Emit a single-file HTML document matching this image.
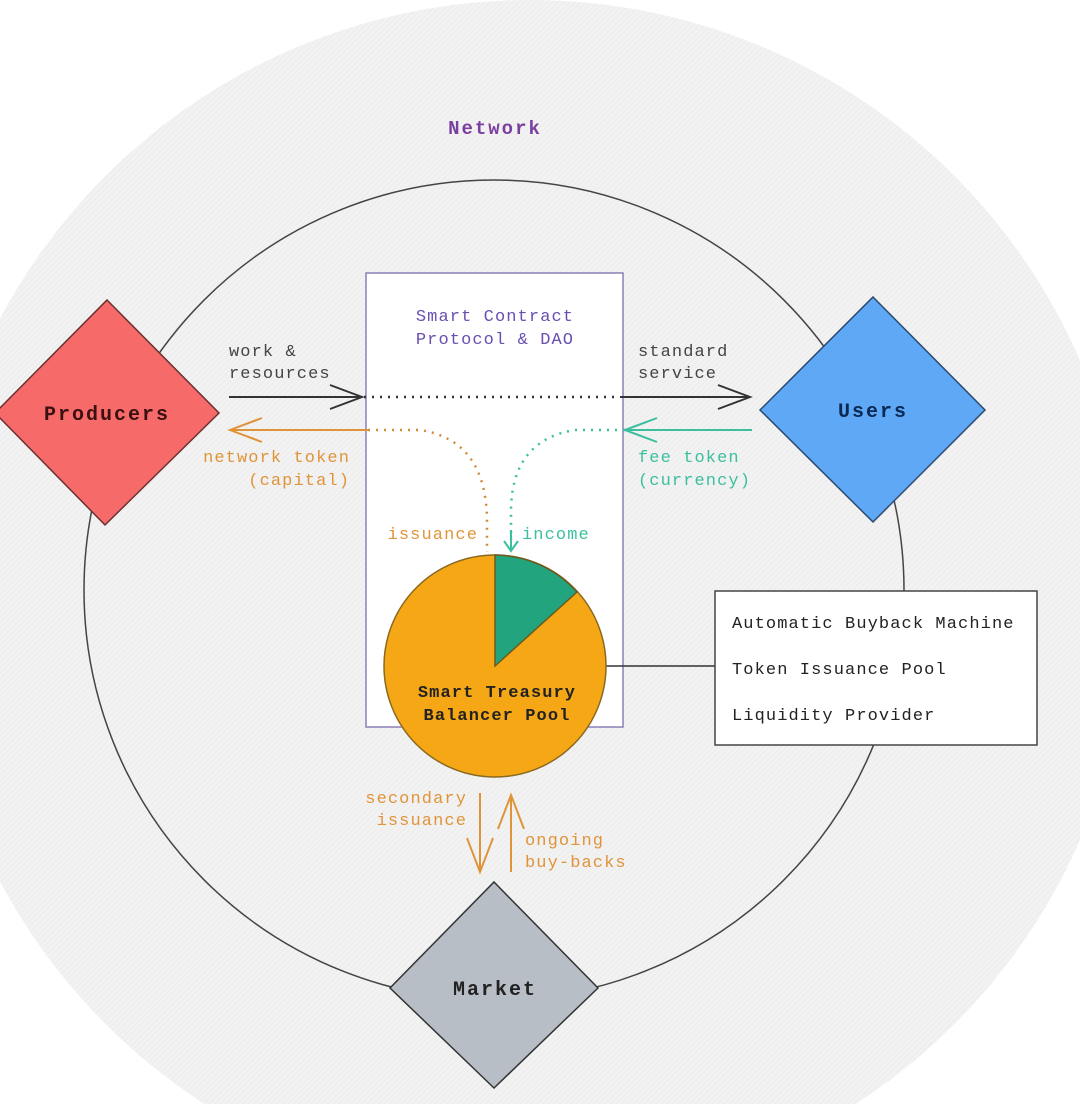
<!DOCTYPE html>
<html><head><meta charset="utf-8"><style>
html,body{margin:0;padding:0;background:#fff;width:1080px;height:1104px;overflow:hidden;}
svg{display:block;}
text{font-family:"Liberation Mono",monospace;}
.s{font-size:17px;letter-spacing:1.1px;}
.b{font-size:20px;letter-spacing:2px;font-weight:bold;}
</style></head><body>
<svg width="1080" height="1104" viewBox="0 0 1080 1104" xmlns="http://www.w3.org/2000/svg">
<defs>
<pattern id="h" width="4" height="4" patternUnits="userSpaceOnUse" patternTransform="rotate(45)">
<rect width="4" height="4" fill="#f2f2f2"/><line x1="0" y1="0" x2="0" y2="4" stroke="#e6e6e6" stroke-width="1"/>
</pattern>
</defs>
<rect width="1080" height="1104" fill="#fff"/>
<circle cx="530" cy="600" r="600" fill="url(#h)"/>
<text x="495" y="134" class="b" style="font-size:19px" fill="#7a3fa0" text-anchor="middle">Network</text>
<circle cx="494" cy="590" r="410" fill="none" stroke="#444" stroke-width="1.5"/>
<rect x="366" y="273" width="257" height="454" fill="#fff" stroke="#8a80b8" stroke-width="1.5"/>
<text x="495" y="321" class="s" fill="#6a4fb0" text-anchor="middle">Smart Contract</text>
<text x="495" y="344" class="s" fill="#6a4fb0" text-anchor="middle">Protocol &amp; DAO</text>

<text x="229" y="356" class="s" fill="#444">work &amp;</text>
<text x="229" y="378" class="s" fill="#444">resources</text>
<line x1="229" y1="397" x2="362" y2="397" stroke="#333" stroke-width="2"/>
<polyline points="330,385 362,397 330,409" fill="none" stroke="#333" stroke-width="2"/>
<line x1="364" y1="397" x2="620" y2="397" stroke="#333" stroke-width="2.5" stroke-dasharray="2,6"/>
<line x1="620" y1="397" x2="750" y2="397" stroke="#333" stroke-width="2"/>
<polyline points="718,385 750,397 718,409" fill="none" stroke="#333" stroke-width="2"/>
<text x="638" y="356" class="s" fill="#444">standard</text>
<text x="638" y="378" class="s" fill="#444">service</text>

<line x1="230" y1="430" x2="368" y2="430" stroke="#e0943a" stroke-width="2"/>
<polyline points="262,418 230,430 262,442" fill="none" stroke="#e0943a" stroke-width="2"/>
<path d="M368,430 L420,430 Q486,440 487,520 L487,552" fill="none" stroke="#d08a3a" stroke-width="2.5" stroke-dasharray="2,6"/>
<text x="350" y="462" class="s" fill="#e0943a" text-anchor="end">network token</text>
<text x="350" y="485" class="s" fill="#e0943a" text-anchor="end">(capital)</text>
<text x="478" y="539" class="s" fill="#e0943a" text-anchor="end">issuance</text>

<line x1="625" y1="430" x2="752" y2="430" stroke="#3cbf9f" stroke-width="2"/>
<polyline points="657,418 625,430 657,442" fill="none" stroke="#3cbf9f" stroke-width="2"/>
<path d="M625,430 L575,430 Q512,440 511,510 L511,540" fill="none" stroke="#3cbf9f" stroke-width="2.5" stroke-dasharray="2,6"/>
<line x1="511" y1="530" x2="511" y2="551" stroke="#3cbf9f" stroke-width="2"/>
<polyline points="504,541 511,551 518,541" fill="none" stroke="#3cbf9f" stroke-width="2"/>
<text x="522" y="539" class="s" fill="#3cbf9f">income</text>
<text x="638" y="462" class="s" fill="#3cbf9f">fee token</text>
<text x="638" y="485" class="s" fill="#3cbf9f">(currency)</text>

<line x1="606" y1="666" x2="715" y2="666" stroke="#333" stroke-width="1.5"/>
<circle cx="495" cy="666" r="111" fill="#f5a716" stroke="#8a6a20" stroke-width="1.5"/>
<path d="M495,666 L495,555 A111,111 0 0 1 577,592 Z" fill="#22a57f" stroke="#6a5a20" stroke-width="1.5"/>
<text x="497" y="697" class="s" font-weight="bold" fill="#222" text-anchor="middle">Smart Treasury</text>
<text x="497" y="720" class="s" font-weight="bold" fill="#222" text-anchor="middle">Balancer Pool</text>

<rect x="715" y="591" width="322" height="154" fill="#fff" stroke="#444" stroke-width="1.5"/>
<text x="732" y="628" class="s" fill="#222">Automatic Buyback Machine</text>
<text x="732" y="674" class="s" fill="#222">Token Issuance Pool</text>
<text x="732" y="720" class="s" fill="#222">Liquidity Provider</text>

<line x1="480" y1="793" x2="480" y2="872" stroke="#e0943a" stroke-width="2"/>
<polyline points="467,838 480,872 493,838" fill="none" stroke="#e0943a" stroke-width="2"/>
<line x1="511" y1="795" x2="511" y2="872" stroke="#e0943a" stroke-width="2"/>
<polyline points="498,829 511,795 524,829" fill="none" stroke="#e0943a" stroke-width="2"/>
<text x="467" y="803" class="s" fill="#e0943a" text-anchor="end">secondary</text>
<text x="467" y="825" class="s" fill="#e0943a" text-anchor="end">issuance</text>
<text x="525" y="845" class="s" fill="#e0943a">ongoing</text>
<text x="525" y="867" class="s" fill="#e0943a">buy-backs</text>

<polygon points="107,300 219,413 105,525 -5,413" fill="#f66a6a" stroke="#6a3030" stroke-width="1.5"/>
<text x="107" y="420" class="b" fill="#3a1010" text-anchor="middle">Producers</text>
<polygon points="873,297 985,410 873,522 760,410" fill="#5ea8f5" stroke="#2a4a70" stroke-width="1.5"/>
<text x="873" y="417" class="b" fill="#0a2a55" text-anchor="middle">Users</text>
<polygon points="494,882 598,988 494,1088 390,988" fill="#b8bec6" stroke="#333" stroke-width="1.5"/>
<text x="495" y="995" class="b" fill="#222" text-anchor="middle">Market</text>
</svg>
</body></html>
